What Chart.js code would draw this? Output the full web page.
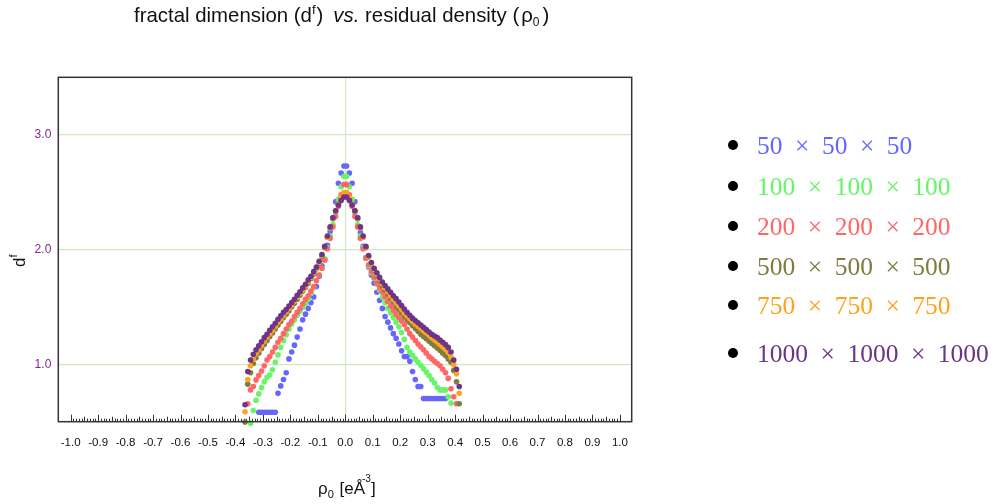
<!DOCTYPE html>
<html>
<head>
<meta charset="utf-8">
<script src="https://cdn.jsdelivr.net/npm/chart.js@4/dist/chart.umd.min.js"></script>
<style>
  html, body { margin: 0; padding: 0; background: #ffffff; }
  canvas { display: block; }
</style>
</head>
<body>
<canvas id="chart" width="996" height="504"></canvas>
<script>
// Residual density grid (e/Å^3) shared by all series
const rho = [
  -0.365, -0.355, -0.345, -0.335, -0.325, -0.315, -0.305, -0.295, -0.285, -0.275,
  -0.265, -0.255, -0.245, -0.235, -0.225, -0.215, -0.205, -0.195, -0.185, -0.175,
  -0.165, -0.155, -0.145, -0.135, -0.125, -0.115, -0.105, -0.095, -0.085, -0.075,
  -0.065, -0.055, -0.045, -0.035, -0.025, -0.015, -0.005,
   0.005,  0.015,  0.025,  0.035,  0.045,  0.055,  0.065,  0.075,  0.085,  0.095,
   0.105,  0.115,  0.125,  0.135,  0.145,  0.155,  0.165,  0.175,  0.185,  0.195,
   0.205,  0.215,  0.225,  0.235,  0.245,  0.255,  0.265,  0.275,  0.285,  0.295,
   0.305,  0.315,  0.325,  0.335,  0.345,  0.355,  0.365,  0.375,  0.385,  0.395,
   0.405,  0.415
];

// Fractal dimension d^f for each grid size (null = no point at that density)
const df50 = [
  null, null, null, null, null, 0.585, 0.585, 0.585, 0.585, 0.585,
  0.585, 0.585, 0.75, 0.815, 0.87, 0.93, 1.05, 1.11, 1.17, 1.24,
  1.31, 1.39, 1.44, 1.49, 1.54, 1.59, 1.68, 1.77, 1.86, 1.92,
  2.04, 2.16, 2.28, 2.42, 2.58, 2.67, 2.73,
  2.73, 2.67, 2.58, 2.42, 2.28, 2.15, 2.03, 1.93, 1.85, 1.78,
  1.71, 1.63, 1.56, 1.49, 1.42, 1.37, 1.32, 1.27, 1.23, 1.18,
  1.12, 1.07, 1.07, 1.03, 0.94, 0.87, 0.81, 0.81, 0.705, 0.705,
  0.705, 0.705, 0.705, 0.705, 0.705, 0.705, 0.705, null, null, null,
  null, null
];
const df100 = [
  null, null, 0.49, 0.60, 0.69, 0.745, 0.80, 0.85, 0.89, 0.91,
  0.955, 1.02, 1.085, 1.15, 1.21, 1.26, 1.31, 1.355, 1.39, 1.43,
  1.465, 1.50, 1.535, 1.57, 1.62, 1.67, 1.73, 1.78, 1.84, 1.92,
  2.02, 2.12, 2.22, 2.32, 2.44, 2.55, 2.64,
  2.64, 2.55, 2.44, 2.32, 2.22, 2.12, 2.02, 1.93, 1.86, 1.80,
  1.75, 1.70, 1.65, 1.59, 1.54, 1.49, 1.45, 1.41, 1.37, 1.33,
  1.28, 1.22, 1.15, 1.11, 1.08, 1.05, 1.02, 0.995, 0.965, 0.935,
  0.905, 0.87, 0.84, 0.80, 0.78, 0.78, 0.78, 0.72, 0.665, null,
  null, null
];
const df200 = [
  null, 0.66, 0.78, 0.81, 0.867, 0.905, 0.945, 0.99, 1.04, 1.07,
  1.11, 1.15, 1.195, 1.23, 1.27, 1.31, 1.35, 1.38, 1.42, 1.455,
  1.49, 1.53, 1.57, 1.60, 1.64, 1.68, 1.73, 1.78, 1.84, 1.91,
  2.01, 2.10, 2.20, 2.29, 2.38, 2.48, 2.57,
  2.57, 2.48, 2.38, 2.29, 2.20, 2.10, 2.01, 1.93, 1.87, 1.81,
  1.76, 1.71, 1.67, 1.63, 1.59, 1.55, 1.51, 1.475, 1.44, 1.41,
  1.38, 1.35, 1.31, 1.27, 1.24, 1.21, 1.18, 1.155, 1.13, 1.10,
  1.07, 1.05, 1.03, 1.01, 0.99, 0.96, 0.93, 0.88, 0.79, 0.72,
  0.66, null
];
const df500 = [
  0.50, 0.83, 0.93, 1.01, 1.06, 1.10, 1.14, 1.175, 1.21, 1.245,
  1.275, 1.31, 1.345, 1.375, 1.41, 1.44, 1.47, 1.505, 1.535, 1.57,
  1.605, 1.64, 1.675, 1.71, 1.75, 1.79, 1.835, 1.885, 1.945, 2.02,
  2.11, 2.19, 2.27, 2.34, 2.40, 2.45, 2.48,
  2.48, 2.45, 2.40, 2.34, 2.27, 2.19, 2.11, 2.02, 1.94, 1.88,
  1.825, 1.775, 1.73, 1.69, 1.65, 1.615, 1.58, 1.545, 1.51, 1.48,
  1.45, 1.42, 1.39, 1.365, 1.34, 1.315, 1.29, 1.265, 1.245, 1.225,
  1.205, 1.185, 1.165, 1.145, 1.125, 1.10, 1.08, 1.05, 1.02, 0.95,
  0.85, 0.66
];
const df750 = [
  0.59, 0.87, 0.99, 1.05, 1.095, 1.13, 1.17, 1.205, 1.24, 1.27,
  1.30, 1.335, 1.37, 1.40, 1.43, 1.46, 1.49, 1.52, 1.55, 1.585,
  1.62, 1.65, 1.685, 1.72, 1.76, 1.80, 1.84, 1.89, 1.95, 2.025,
  2.11, 2.19, 2.27, 2.34, 2.40, 2.46, 2.50,
  2.50, 2.46, 2.40, 2.34, 2.27, 2.19, 2.11, 2.02, 1.94, 1.88,
  1.83, 1.785, 1.745, 1.705, 1.67, 1.635, 1.60, 1.57, 1.54, 1.51,
  1.48, 1.45, 1.425, 1.40, 1.375, 1.355, 1.335, 1.315, 1.295, 1.275,
  1.255, 1.235, 1.215, 1.195, 1.175, 1.155, 1.135, 1.105, 1.065, 1.00,
  0.92, 0.75
];
const df1000 = [
  0.65, 0.94, 1.04, 1.09, 1.13, 1.165, 1.20, 1.235, 1.265, 1.30,
  1.33, 1.36, 1.395, 1.425, 1.455, 1.48, 1.51, 1.54, 1.57, 1.605,
  1.635, 1.67, 1.70, 1.74, 1.77, 1.81, 1.85, 1.90, 1.96, 2.03,
  2.12, 2.20, 2.28, 2.34, 2.39, 2.43, 2.46,
  2.46, 2.43, 2.39, 2.34, 2.28, 2.20, 2.12, 2.03, 1.95, 1.89,
  1.84, 1.80, 1.76, 1.72, 1.69, 1.66, 1.63, 1.60, 1.575, 1.545,
  1.515, 1.485, 1.455, 1.43, 1.405, 1.385, 1.365, 1.345, 1.325, 1.305,
  1.285, 1.265, 1.25, 1.235, 1.215, 1.195, 1.175, 1.15, 1.11, 1.04,
  0.96, 0.81
];

const gridSizes = [50, 100, 200, 500, 750, 1000];
const seriesValues = [df50, df100, df200, df500, df750, df1000];
const seriesColors = [
  'rgb(102,102,255)', 'rgb(102,245,102)', 'rgb(255,102,102)',
  'rgb(125,125,62)', 'rgb(255,162,32)', 'rgb(108,52,138)'
];

const xTickValues = [-1.0, -0.9, -0.8, -0.7, -0.6, -0.5, -0.4, -0.3, -0.2, -0.1,
                     0.0, 0.1, 0.2, 0.3, 0.4, 0.5, 0.6, 0.7, 0.8, 0.9, 1.0];
const yTickValues = [1.0, 2.0, 3.0];

const GRID_GREEN = 'rgb(208,232,190)';
const FRAME = '#333333';
const SANS = '"Liberation Sans", Arial, sans-serif';
const SERIF = '"Liberation Serif", "Times New Roman", serif';

// Draw a run of text pieces with individual fonts and baseline shifts
function drawRuns(ctx, runs, x, y) {
  let cx = x;
  for (const r of runs) {
    cx += r.gap || 0;
    ctx.font = r.font;
    ctx.fillText(r.text, cx, y + (r.dy || 0));
    cx += ctx.measureText(r.text).width;
  }
  return cx;
}

// Frame around the plot area and small density ticks along the bottom edge
const framePlugin = {
  id: 'frameTicks',
  beforeDatasetsDraw(chart) {
    const { ctx, chartArea: a, scales: { x } } = chart;
    ctx.save();
    ctx.strokeStyle = FRAME;
    ctx.lineWidth = 1;
    for (let k = -100; k <= 100; k++) {
      const v = k / 100;
      const len = (k % 10 === 0) ? 7 : (k % 5 === 0 ? 5 : 3);
      const px = Math.round(x.getPixelForValue(v)) + 0.5;
      ctx.beginPath();
      ctx.moveTo(px, a.bottom);
      ctx.lineTo(px, a.bottom - len);
      ctx.stroke();
    }
    ctx.restore();
  },
  afterDatasetsDraw(chart) {
    const { ctx, chartArea: a } = chart;
    ctx.save();
    ctx.strokeStyle = FRAME;
    ctx.lineWidth = 1.5;
    ctx.strokeRect(a.left, a.top, a.right - a.left, a.bottom - a.top);
    ctx.restore();
  }
};

// Title, axis titles and the legend
const textPlugin = {
  id: 'texts',
  afterDraw(chart) {
    const { ctx } = chart;
    ctx.save();
    ctx.fillStyle = '#111';
    ctx.textBaseline = 'alphabetic';
    ctx.textAlign = 'left';

    // Title
    drawRuns(ctx, [
      { text: 'fractal dimension (d', font: '20.4px ' + SANS },
      { text: 'f', font: '13px ' + SANS, dy: -8 },
      { text: ')', font: '20.4px ' + SANS, gap: 1 },
      { text: 'vs.', font: 'italic 20.4px ' + SANS, gap: 10 },
      { text: ' residual density (', font: '20.4px ' + SANS },
      { text: 'ρ', font: '20.4px ' + SANS, gap: 2 },
      { text: '0', font: '12px ' + SANS, dy: 4 },
      { text: ')', font: '20.4px ' + SANS, gap: 3 }
    ], 134, 22);

    // x axis title
    drawRuns(ctx, [
      { text: 'ρ', font: '17px ' + SANS },
      { text: '0', font: '11px ' + SANS, dy: 4 },
      { text: ' [eÅ', font: '17px ' + SANS, gap: 1 },
      { text: '-3', font: '10px ' + SANS, dy: -12, gap: -3 },
      { text: ']', font: '17px ' + SANS, gap: 0 }
    ], 318, 494);

    // y axis title (rotated)
    ctx.save();
    ctx.translate(25, 267);
    ctx.rotate(-Math.PI / 2);
    drawRuns(ctx, [
      { text: 'd', font: '17px ' + SANS },
      { text: 'f', font: '11px ' + SANS, dy: -8 }
    ], 0, 0);
    ctx.restore();

    // Legend
    const rowsY = [145, 186, 226, 266, 305, 353];
    gridSizes.forEach((n, i) => {
      const cy = rowsY[i];
      ctx.fillStyle = '#000';
      ctx.beginPath();
      ctx.arc(733, cy, 5, 0, Math.PI * 2);
      ctx.fill();
      ctx.fillStyle = seriesColors[i];
      const parts = [String(n), '×', String(n), '×', String(n)];
      let px = 757;
      ctx.font = '25.5px ' + SERIF;
      parts.forEach((p, j) => {
        if (j > 0) px += 12.5;
        ctx.fillText(p, px, cy + 8.5);
        px += ctx.measureText(p).width;
      });
    });
    ctx.restore();
  }
};

const datasets = seriesValues.map((vals, i) => ({
  label: gridSizes[i] + ' × ' + gridSizes[i] + ' × ' + gridSizes[i],
  data: rho.map((r, j) => (vals[j] === null ? null : { x: r, y: vals[j] })).filter(p => p),
  backgroundColor: seriesColors[i],
  borderWidth: 0,
  pointRadius: 2.8,
  pointHoverRadius: 2.8,
  showLine: false,
  clip: false,
  order: gridSizes.length - 1 - i
}));

new Chart(document.getElementById('chart').getContext('2d'), {
  type: 'scatter',
  data: { datasets },
  options: {
    responsive: false,
    animation: false,
    devicePixelRatio: 1,
    layout: { padding: { left: 0, right: 364.3, top: 77.3, bottom: 0 } },
    plugins: {
      legend: { display: false },
      tooltip: { enabled: false },
      title: { display: false }
    },
    scales: {
      x: {
        type: 'linear',
        min: -1.045,
        max: 1.043,
        afterBuildTicks: s => { s.ticks = xTickValues.map(v => ({ value: v })); },
        afterFit: s => { s.height = 82.3; },
        border: { display: false },
        grid: {
          drawTicks: false,
          lineWidth: 1.2,
          color: c => (c.tick && Math.abs(c.tick.value) < 1e-9) ? GRID_GREEN : 'rgba(0,0,0,0)'
        },
        ticks: {
          padding: 14,
          autoSkip: false,
          maxRotation: 0,
          color: '#111',
          font: { family: SANS, size: 11.5 },
          callback: v => Number(v).toFixed(1)
        }
      },
      y: {
        type: 'linear',
        min: 0.503,
        max: 3.503,
        afterBuildTicks: s => { s.ticks = yTickValues.map(v => ({ value: v })); },
        afterFit: s => { s.width = 58.3; },
        border: { display: false },
        grid: { drawTicks: false, lineWidth: 1.2, color: GRID_GREEN },
        ticks: {
          padding: 7,
          color: 'rgb(125,40,140)',
          font: { family: SANS, size: 12 },
          callback: v => Number(v).toFixed(1)
        }
      }
    }
  },
  plugins: [framePlugin, textPlugin]
});
</script>
</body>
</html>
